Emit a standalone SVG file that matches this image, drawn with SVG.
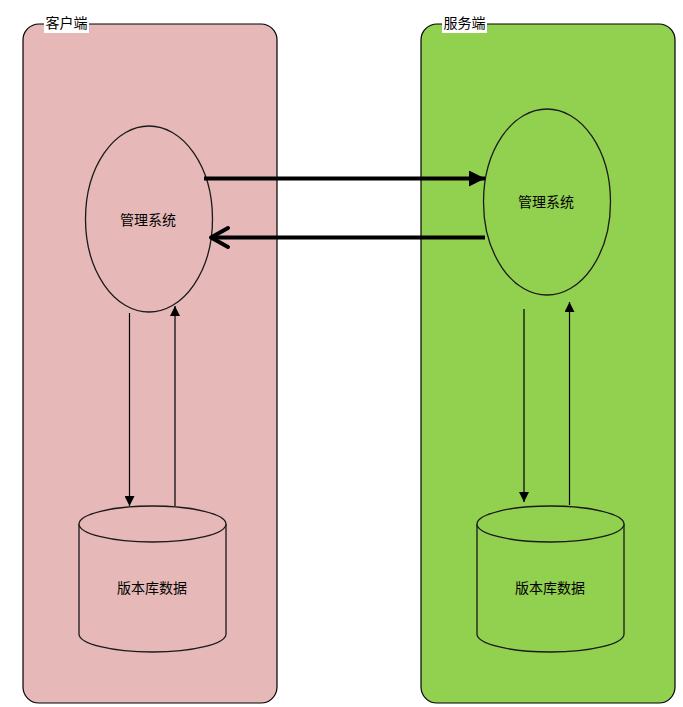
<svg xmlns="http://www.w3.org/2000/svg" width="683" height="707" viewBox="0 0 683 707">
<style>
.lbl{font-family:"Liberation Sans","Noto Sans CJK SC",sans-serif;font-size:14px;fill:#000;text-anchor:middle;dominant-baseline:central}
.box{stroke:#000;stroke-width:1.2}
.shape{stroke:#1a1a1a;stroke-width:1.3}
.thin{stroke:#000;stroke-width:1.2;fill:none}
.thick{stroke:#000;stroke-width:4;fill:none}
</style>
<defs>
<marker id="tri" viewBox="0 0 10 10" refX="10" refY="5" markerWidth="10" markerHeight="10" markerUnits="userSpaceOnUse" orient="auto">
<path d="M0,0 L10,5 L0,10 Z" fill="#000"/>
</marker>
<marker id="bigtri" viewBox="0 0 16 16" refX="16" refY="8" markerWidth="16" markerHeight="16" markerUnits="userSpaceOnUse" orient="auto">
<path d="M0,0 L16,8 L0,16 Z" fill="#000"/>
</marker>
</defs>
<rect width="683" height="707" fill="#fff"/>
<g id="client">
<rect class="box" x="23" y="24" width="254" height="679" rx="16" fill="#e6b9b8"/>
<rect x="44" y="15" width="45" height="18" fill="#fff"/>
<text class="lbl" x="66.5" y="23">客户端</text>
</g>
<g id="server">
<rect class="box" x="421" y="24" width="254" height="679" rx="16" fill="#92d050"/>
<rect x="442" y="15" width="45" height="18" fill="#fff"/>
<text class="lbl" x="464.5" y="23">服务端</text>
</g>
<g id="client-mgmt">
<ellipse class="shape" cx="149" cy="219" rx="63.5" ry="93" fill="#e6b9b8"/>
<text class="lbl" x="148" y="220">管理系统</text>
</g>
<g id="server-mgmt">
<ellipse class="shape" cx="547" cy="202" rx="63.5" ry="93" fill="#92d050"/>
<text class="lbl" x="546" y="202">管理系统</text>
</g>
<g id="client-db">
<path class="shape" d="M79,524 L79,634 A73.5,18 0 0 0 226,634 L226,524" fill="#e6b9b8"/>
<ellipse class="shape" cx="152.5" cy="524" rx="73.5" ry="18" fill="#e6b9b8"/>
<text class="lbl" x="152" y="588">版本库数据</text>
</g>
<g id="server-db">
<path class="shape" d="M477,524 L477,634 A73.5,18 0 0 0 624,634 L624,524" fill="#92d050"/>
<ellipse class="shape" cx="550.5" cy="524" rx="73.5" ry="18" fill="#92d050"/>
<text class="lbl" x="550" y="588">版本库数据</text>
</g>
<g id="connectors">
<line class="thick" x1="204" y1="178.5" x2="485" y2="178.5" marker-end="url(#bigtri)"/>
<line class="thick" x1="485" y1="237.5" x2="212" y2="237.5"/>
<polyline class="thick" points="228,228 211,237.5 228,247" stroke-linecap="round" stroke-linejoin="round"/>
<line class="thin" x1="129.5" y1="313" x2="129.5" y2="506" marker-end="url(#tri)"/>
<line class="thin" x1="175" y1="506" x2="175" y2="306" marker-end="url(#tri)"/>
<line class="thin" x1="524" y1="309" x2="524" y2="502" marker-end="url(#tri)"/>
<line class="thin" x1="569.5" y1="505" x2="569.5" y2="302" marker-end="url(#tri)"/>
</g>
</svg>
